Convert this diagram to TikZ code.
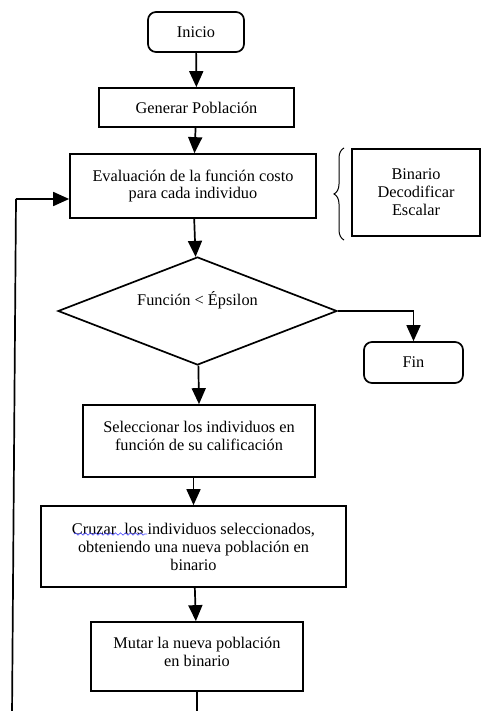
\documentclass[tikz,border=0pt]{standalone}
\usepackage{fontspec}
\setmainfont{Liberation Serif}
\usetikzlibrary{shapes.geometric,arrows.meta,decorations.pathreplacing,decorations.pathmorphing}
\begin{document}
\begin{tikzpicture}[x=1pt,y=-1pt,
  box/.style={draw,line width=1.7pt,rectangle,align=center,inner sep=0pt,font=\fontsize{16.3}{18}\selectfont},
  term/.style={box,rounded corners=8pt},
  flow/.style={line width=1.7pt,-{Triangle[width=14pt,length=16pt]}},
  plainline/.style={line width=1.7pt}]
\useasboundingbox (0,0) rectangle (481,711);
\clip (0,0) rectangle (481,711);
% nodes
\node[term,minimum width=96pt,minimum height=40pt] (inicio) at (196,32) {Inicio};
\node[box,minimum width=195pt,minimum height=39pt] (gen) at (196.5,107.5) {Generar Población};
\node[box,minimum width=246pt,minimum height=64pt,font=\fontsize{16.3}{16.5}\selectfont] (eval) at (193,186) {Evaluación de la función costo\\para cada individuo};
\node[box,minimum width=128pt,minimum height=87pt] (bin) at (416,192.5) {Binario\\Decodificar\\Escalar};
\node[draw,line width=1.7pt,diamond,aspect=2.58,inner sep=0pt,minimum width=279pt,minimum height=108pt,
  label={[yshift=11pt,font=\fontsize{16.3}{18}\selectfont]center:Función < Épsilon}] (dec) at (197.5,311) {};
\node[term,minimum width=99pt,minimum height=41pt] (fin) at (413.5,362.5) {Fin};
\node[box,minimum width=232pt,minimum height=72pt] (sel) at (199,441) {Seleccionar los individuos en\\función de su calificación\\[-8pt]};
\node[box,minimum width=305pt,minimum height=81pt] (cruz) at (193.5,546.5) {Cruzar\ \ los individuos seleccionados,\\obteniendo una nueva población en\\binario};
\node[box,minimum width=212pt,minimum height=69pt] (mut) at (197,656.5) {Mutar la nueva población\\en binario\\[-9pt]};
% brace
\draw[line width=1pt,decorate,decoration={brace,amplitude=10pt}] (344,240) -- (344,148);
% spell-check underline
\draw[blue!70!white,line width=0.6pt,decorate,decoration={snake,amplitude=1.2pt,segment length=5pt}] (74,534) -- (147,534);
% connectors
\draw[flow] (inicio) -- (gen);
\draw[flow] (gen) -- (eval);
\draw[flow] (eval) -- (dec);
\draw[flow] (dec.east) -| (fin.north);
\draw[flow] (dec) -- (sel.north);
\draw[flow] (sel.south -| cruz.north) -- (cruz.north);
\draw[flow] (cruz) -- (mut);
\coordinate (loopbot) at (197,716);
\coordinate (loopcorner) at (12,716);
\coordinate (loopup) at (16,199);
\draw[plainline] (mut.south) -- (loopbot) -- (loopcorner) -- (loopup);
\draw[flow] (loopup) -- (loopup -| eval.west);
\end{tikzpicture}
\end{document}
